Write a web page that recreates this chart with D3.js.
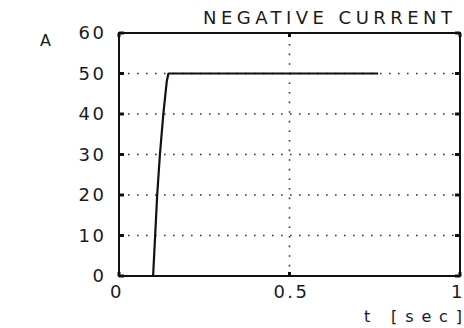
<!DOCTYPE html>
<html>
<head>
<meta charset="utf-8">
<script src="https://cdn.jsdelivr.net/npm/d3@7"></script>
<style>
  body { margin: 0; background: #fff; }
  text { font-family: "DejaVu Sans", sans-serif; fill: #1a1a1a; }
</style>
</head>
<body>
<figure id="chart" style="margin:0"></figure>
<script>
// current trace
const timeSec = [0.100, 0.106, 0.112, 0.120, 0.130, 0.140, 0.145, 0.760];
const currentA = [0, 10, 20, 30, 40, 48, 50, 50];
const yTicks = [0, 10, 20, 30, 40, 50, 60];
const xTicks = [0, 0.5, 1];
const xTickLabels = ["0", "0.5", "1"];

const width = 464, height = 328;
const margin = { left: 119, right: 4, top: 33, bottom: 52 };

const svg = d3.select("#chart")
  .append("svg")
  .attr("width", width)
  .attr("height", height);

const x = d3.scaleLinear().domain([0, 1]).range([margin.left, width - margin.right]);
const y = d3.scaleLinear().domain([0, 60]).range([height - margin.bottom, margin.top]);

// dotted grid
svg.append("g")
  .selectAll("line")
  .data(yTicks.filter(d => d > 0 && d < 60))
  .enter()
  .append("line")
  .attr("x1", x(0)).attr("x2", x(1))
  .attr("y1", d => y(d)).attr("y2", d => y(d))
  .attr("stroke", "#333")
  .attr("stroke-width", 1.6)
  .attr("stroke-dasharray", "1.6,7.4");

svg.append("line")
  .attr("x1", x(0.5)).attr("x2", x(0.5))
  .attr("y1", y(0)).attr("y2", y(60))
  .attr("stroke", "#333")
  .attr("stroke-width", 1.6)
  .attr("stroke-dasharray", "1.6,8");

// frame
svg.append("rect")
  .attr("x", x(0)).attr("y", y(60))
  .attr("width", x(1) - x(0))
  .attr("height", y(0) - y(60))
  .attr("fill", "none")
  .attr("stroke", "#111")
  .attr("stroke-width", 2);

// inner tick marks left and right
const tk = svg.append("g").attr("stroke", "#111").attr("stroke-width", 3);
yTicks.forEach(d => {
  tk.append("line").attr("x1", x(0)).attr("x2", x(0) + 5).attr("y1", y(d)).attr("y2", y(d));
  tk.append("line").attr("x1", x(1) - 5).attr("x2", x(1)).attr("y1", y(d)).attr("y2", y(d));
});
xTicks.forEach(d => {
  tk.append("line").attr("x1", x(d)).attr("x2", x(d)).attr("y1", y(0)).attr("y2", y(0) - 4);
  tk.append("line").attr("x1", x(d)).attr("x2", x(d)).attr("y1", y(60)).attr("y2", y(60) + 4);
});

// y tick labels
svg.append("g")
  .selectAll("text")
  .data(yTicks)
  .enter()
  .append("text")
  .attr("x", 104)
  .attr("y", d => y(d) + 6)
  .attr("text-anchor", "end")
  .attr("font-size", 18)
  .attr("letter-spacing", 2.5)
  .attr("dx", 2.5)
  .text(d => d);

// x tick labels
svg.append("g")
  .selectAll("text")
  .data(xTicks)
  .enter()
  .append("text")
  .attr("x", (d, i) => i === 0 ? x(d) - 2 : i === 2 ? x(d) - 2 : x(d) + 2)
  .attr("y", 298)
  .attr("text-anchor", "middle")
  .attr("font-size", 18)
  .attr("letter-spacing", 2.5)
  .text((d, i) => xTickLabels[i]);

// unit & titles
svg.append("text")
  .attr("x", 40).attr("y", 46)
  .attr("font-size", 16)
  .text("A");

svg.append("text")
  .attr("x", 203).attr("y", 24)
  .attr("font-size", 18)
  .attr("textLength", 249)
  .attr("lengthAdjust", "spacing")
  .text("NEGATIVE CURRENT");

svg.append("text")
  .attr("x", 364).attr("y", 322)
  .attr("font-size", 16)
  .attr("textLength", 98)
  .attr("lengthAdjust", "spacing")
  .text("t [sec]");

// current curve
const line = d3.line()
  .x((d, i) => x(timeSec[i]))
  .y(d => y(d));

svg.append("path")
  .datum(currentA)
  .attr("fill", "none")
  .attr("stroke", "#111")
  .attr("stroke-width", 2.2)
  .attr("stroke-linejoin", "round")
  .attr("d", line);
</script>
</body>
</html>
